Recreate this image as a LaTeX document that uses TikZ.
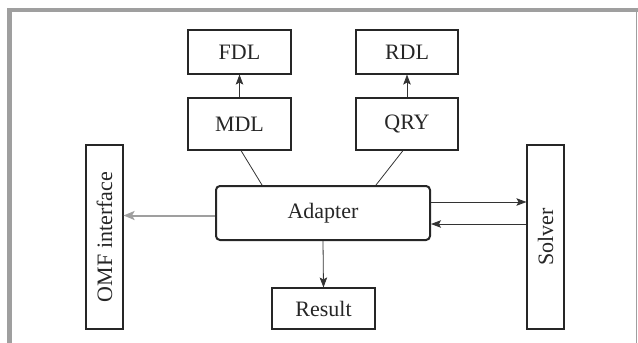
\documentclass[tikz,border=0pt]{standalone}
\usepackage{fontspec}
\setmainfont{Liberation Serif}
\usetikzlibrary{arrows.meta,calc}
\begin{document}
\begin{tikzpicture}[x=1pt,y=-1pt,
  box/.style={draw=black!85, line width=1.1pt, minimum width=#1, inner sep=0pt, font=\fontsize{22}{24}\selectfont, text=black!85},
  arr/.style={draw=black!80, line width=0.8pt, -{Stealth[length=10pt,width=7.5pt,inset=2pt]}},
  ln/.style={draw=black!80, line width=0.8pt}]
\useasboundingbox (0,0) rectangle (638,343);
% frame
\draw[gray!75, line width=4.5pt] (9.5,343) -- (9.5,10) -- (638,10);
\draw[gray!75, line width=1pt] (636.5,10) -- (636.5,343);
% nodes
\node[box=103pt, minimum height=44pt] (FDL) at (239.5,52) {FDL};
\node[box=102pt, minimum height=44pt] (RDL) at (407,52) {RDL};
\node[box=103pt, minimum height=52pt] (MDL) at (239.5,124) {MDL};
\node[box=102pt, minimum height=52pt] (QRY) at (407,124) {QRY};
\node[box=214pt, minimum height=54pt, line width=2pt, rounded corners=4pt] (AD) at (323,213) {Adapter};
\node[box=184pt, minimum height=37pt, rotate=90] (OMF) at (104.5,237) {OMF interface};
\node[box=184pt, minimum height=37pt, rotate=90] (SOL) at (545.5,237) {Solver};
\node[box=103pt, minimum height=41pt] (RES) at (323.5,308.5) {Result};
% connectors
\draw[arr] (MDL.north) -- (FDL.south);
\draw[arr] (QRY.north) -- (RDL.south);
\draw[ln] ([xshift=1.5pt]MDL.south) -- ([xshift=-61pt]AD.north);
\draw[ln] ([xshift=-4pt]QRY.south) -- ([xshift=53pt]AD.north);
\draw[arr] ([yshift=11pt]AD.east) -- ([yshift=11pt]AD.east -| SOL.north);
\draw[arr] ([yshift=-11pt]AD.east -| SOL.north) -- ([yshift=-11pt]AD.east);
\draw[arr, draw=gray!75, line width=2pt, -{Stealth[length=11pt,width=9pt,inset=2.5pt]}] ([yshift=-2.5pt]AD.west) -- ([yshift=-2.5pt]AD.west -| OMF.south);
\draw[arr] (AD.south) -- (RES.north);
\end{tikzpicture}
\end{document}
